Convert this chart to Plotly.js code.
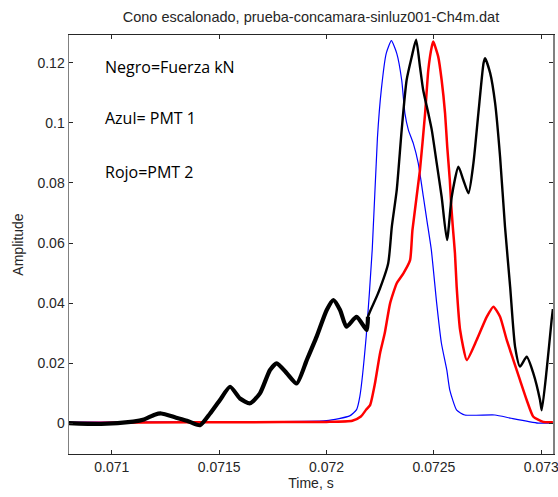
<!DOCTYPE html>
<html>
<head>
<meta charset="utf-8">
<script src="https://cdn.plot.ly/plotly-3.0.1.min.js"></script>
<style>html,body{margin:0;padding:0;background:#fff;}#chart{width:558px;height:497px;}</style>
</head>
<body>
<div id="chart"></div>
<script>
// Black: Fuerza kN
var timeBlack = [0.0708,0.07095,0.0711,0.07115,0.0712,0.07123,0.0713,0.07135,0.071411,0.071458,0.071504,0.071551,0.071597,0.071644,0.07169,0.071737,0.071768,0.071815,0.071861,0.071908,0.071954,0.072001,0.072032,0.072063,0.072093,0.07214,0.072187,0.072193,0.07224,0.072287,0.072304,0.072327,0.07235,0.072373,0.072397,0.072417,0.072435,0.07245,0.072474,0.07249,0.072513,0.072536,0.072561,0.072583,0.072614,0.072637,0.072661,0.072684,0.072707,0.072731,0.072738,0.072762,0.072785,0.072808,0.072831,0.072855,0.072878,0.072901,0.072932,0.072963,0.072994,0.073002,0.073025,0.073048,0.073054];
var forceBlack = [0.0,-0.0003,0.0005,0.0012,0.0028,0.0032,0.0018,0.0008,-0.0007,0.0032,0.0077,0.0121,0.0082,0.0066,0.0099,0.0177,0.0199,0.0166,0.0132,0.021,0.0288,0.0377,0.041,0.0377,0.0321,0.0354,0.031,0.0354,0.0432,0.0532,0.0654,0.0777,0.0977,0.1143,0.1221,0.1277,0.1188,0.111,0.1032,0.0977,0.0866,0.0754,0.061,0.0754,0.0854,0.081,0.0766,0.0866,0.1032,0.1199,0.1216,0.1166,0.1066,0.0888,0.0654,0.0454,0.0254,0.0188,0.0221,0.0166,0.0077,0.0043,0.0177,0.0343,0.038];

// Blue: PMT 1
var timeBlue = [0.0708,0.0716,0.072,0.072108,0.07214,0.072155,0.072185,0.072213,0.072237,0.072255,0.072278,0.072302,0.072327,0.07235,0.072365,0.072381,0.072404,0.072427,0.072451,0.072467,0.072488,0.072513,0.072535,0.07256,0.072574,0.072606,0.072644,0.072784,0.07286,0.072985,0.073054];
var pmt1Blue = [0.0003,0.0004,0.0008,0.0024,0.0045,0.0088,0.029,0.058,0.095,0.111,0.1232,0.1274,0.1232,0.1143,0.1032,0.0977,0.0932,0.0866,0.0754,0.0677,0.0577,0.0399,0.0266,0.0177,0.011,0.0043,0.0027,0.0027,0.0016,0.0,0.0];

// Red: PMT 2
var timeRed = [0.0708,0.07115,0.0716,0.072,0.07212,0.07216,0.072185,0.072203,0.072225,0.072249,0.072271,0.072296,0.072327,0.072358,0.072389,0.0724,0.072435,0.072459,0.072474,0.07249,0.072497,0.07252,0.072536,0.072552,0.072562,0.072574,0.07258,0.072588,0.072598,0.072606,0.072622,0.072653,0.072699,0.072746,0.072777,0.072808,0.072839,0.07287,0.072901,0.072932,0.072963,0.073009,0.073054];
var pmt2Red = [0.0,0.0002,0.0003,0.0004,0.0008,0.0022,0.0045,0.006,0.013,0.0232,0.0299,0.0399,0.0466,0.0499,0.0543,0.0643,0.0843,0.1032,0.1177,0.1254,0.1271,0.1221,0.1143,0.1032,0.0921,0.081,0.0732,0.0654,0.0566,0.0454,0.031,0.021,0.0277,0.0354,0.0388,0.0354,0.0277,0.021,0.0143,0.0077,0.0021,0.0004,0.0003];

var xTicks = [0.071,0.0715,0.072,0.0725,0.073];
var xTickText = ['0.071','0.0715','0.072','0.0725','0.073'];
var yTicks = [0,0.02,0.04,0.06,0.08,0.1,0.12];
var yTickText = ['0','0.02','0.04','0.06','0.08','0.1','0.12'];
var notes = ['Negro=Fuerza kN','Azul= PMT 1','Rojo=PMT 2'];

// noisy early part of the force trace drawn thicker (slice of the same arrays)
var noisyEnd = 0.07222;
var bxN = [], byN = [];
for (var i = 0; i < timeBlack.length; i++) {
  if (timeBlack[i] <= noisyEnd) { bxN.push(timeBlack[i]); byN.push(forceBlack[i]); }
}

var traces = [
  {x: timeBlue, y: pmt1Blue, type: 'scatter', mode: 'lines', line: {color: '#0000ff', width: 1.2, shape: 'spline', smoothing: 0.5}, hoverinfo: 'skip'},
  {x: timeRed, y: pmt2Red, type: 'scatter', mode: 'lines', line: {color: '#ff0000', width: 2.5, shape: 'spline', smoothing: 0.5}, hoverinfo: 'skip'},
  {x: timeBlack, y: forceBlack, type: 'scatter', mode: 'lines', line: {color: '#000000', width: 2.4, shape: 'spline', smoothing: 0.6}, hoverinfo: 'skip'},
  {x: bxN, y: byN, type: 'scatter', mode: 'lines', line: {color: '#000000', width: 4.2, shape: 'spline', smoothing: 0.6}, hoverinfo: 'skip'}
];

var tickFont = {family: 'Liberation Sans, Arial, sans-serif', size: 14, color: '#262626'};
var notePos = [0.9236, 0.8019, 0.673];

var layout = {
  width: 558, height: 497,
  margin: {l: 69, r: 5, t: 35, b: 43, pad: 0},
  paper_bgcolor: '#ffffff', plot_bgcolor: '#ffffff',
  showlegend: false,
  title: {text: 'Cono escalonado, prueba-concamara-sinluz001-Ch4m.dat', font: {family: 'Liberation Sans, Arial, sans-serif', size: 14.5, color: '#262626'}, x: 0.5573, xanchor: 'center', y: 0.966, yanchor: 'middle', xref: 'container', yref: 'container'},
  xaxis: {
    range: [0.070801, 0.0730545], tickvals: xTicks, ticktext: xTickText,
    ticks: 'inside', ticklen: 4, tickcolor: '#262626', showline: true, linecolor: '#262626', linewidth: 1, mirror: 'ticks',
    showgrid: false, zeroline: false, tickfont: tickFont, ticklabeloverflow: 'allow',
    title: {text: 'Time, s', font: tickFont, standoff: 0}, automargin: false
  },
  yaxis: {
    range: [-0.0103, 0.1293], tickvals: yTicks, ticktext: yTickText,
    ticks: 'inside', ticklen: 4, tickcolor: '#262626', showline: true, linecolor: '#808080', linewidth: 1.5, mirror: 'ticks',
    showgrid: false, zeroline: false, tickfont: tickFont,
    title: {text: 'Amplitude', font: tickFont, standoff: 10}, automargin: false
  },
  annotations: notes.map(function(t, i) {
    return {text: t, xref: 'paper', yref: 'paper', x: 0.0702, y: notePos[i], xanchor: 'left', yanchor: 'middle', showarrow: false,
            font: {family: 'Open Sans, sans-serif', size: 16, color: '#000000'}};
  })
};

Plotly.newPlot('chart', traces, layout, {staticPlot: true, displayModeBar: false});
</script>
</body>
</html>
